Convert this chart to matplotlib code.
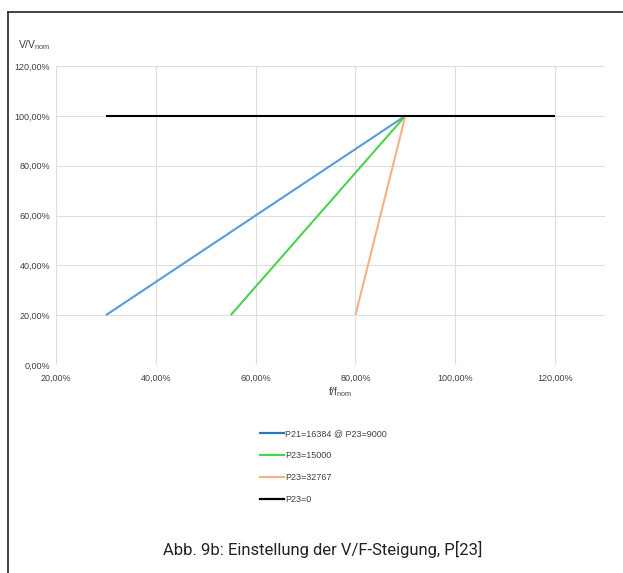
import matplotlib
matplotlib.use("Agg")
import matplotlib.pyplot as plt
from matplotlib.ticker import FuncFormatter
from matplotlib.lines import Line2D

series_labels = ["P21=16384 @ P23=9000", "P23=15000", "P23=32767", "P23=0"]
series_x = [[30, 90], [55, 90], [80, 90], [30, 120]]
series_y = [[20, 100], [20, 100], [20, 100], [100, 100]]
series_colors = ["#5B9BD5", "#4CD24C", "#F4B183", "#000000"]
x_ticks = [20, 40, 60, 80, 100, 120]
y_ticks = [0, 20, 40, 60, 80, 100, 120]
caption = "Abb. 9b: Einstellung der V/F-Steigung, P[23]"

W, H = 623, 573
fig = plt.figure(figsize=(W / 100, H / 100), dpi=100)
plt.rcParams['font.family'] = ['Liberation Sans', 'DejaVu Sans']

ax = fig.add_axes([56 / W, 1 - 365 / H, (605 - 56) / W, (365 - 66) / H])
for xs, ys, c, lab in zip(series_x, series_y, series_colors, series_labels):
    ax.plot(xs, ys, color=c, lw=1.5, label=lab, solid_capstyle='butt')

ax.set_xlim(20, 130)
ax.set_ylim(0, 120)
ax.set_xticks(x_ticks)
ax.set_yticks(y_ticks)
fmt = FuncFormatter(lambda v, p: f"{v:.2f}".replace(".", ",") + "%")
ax.xaxis.set_major_formatter(fmt)
ax.yaxis.set_major_formatter(fmt)
ax.tick_params(axis='both', length=0, labelsize=6.5, colors='#404040')
ax.tick_params(axis='x', pad=6)
ax.tick_params(axis='y', pad=4)
ax.grid(True, color='#DEDEDE', lw=0.8)
ax.set_axisbelow(True)
for s in ax.spines.values():
    s.set_visible(False)

fig.text(18 / W, 1 - 45 / H, r"V/V$_{\mathregular{nom}}$", fontsize=7.5, color='#404040',
         ha='left', va='center')
fig.text(340 / W, 1 - 392 / H, r"f/f$_{\mathregular{nom}}$", fontsize=7.5, color='#404040',
         ha='center', va='center')

handles = [Line2D([0], [0], color=c, lw=1.6) for c in series_colors]
handles[0] = Line2D([0], [0], color='#2E75B6', lw=1.6)
fig.legend(handles, series_labels, loc='upper left', bbox_to_anchor=(252 / W, 1 - 421 / H),
           frameon=False, fontsize=6.5, handlelength=2.6, handletextpad=0.2,
           labelspacing=1.45, labelcolor='#404040')

fig.text(323 / W, 1 - 549 / H, caption, fontsize=12, ha='center', va='center',
         family=['Roboto', 'DejaVu Sans'], color='#222222')

# frame lines
fig.add_artist(Line2D([8 / W, 8 / W], [0, 1 - 12 / H], color='#333333', lw=1.3,
                      transform=fig.transFigure))
fig.add_artist(Line2D([8 / W, 1], [1 - 12 / H, 1 - 12 / H], color='#333333', lw=1.3,
                      transform=fig.transFigure))

fig.savefig("out.png", dpi=100)
